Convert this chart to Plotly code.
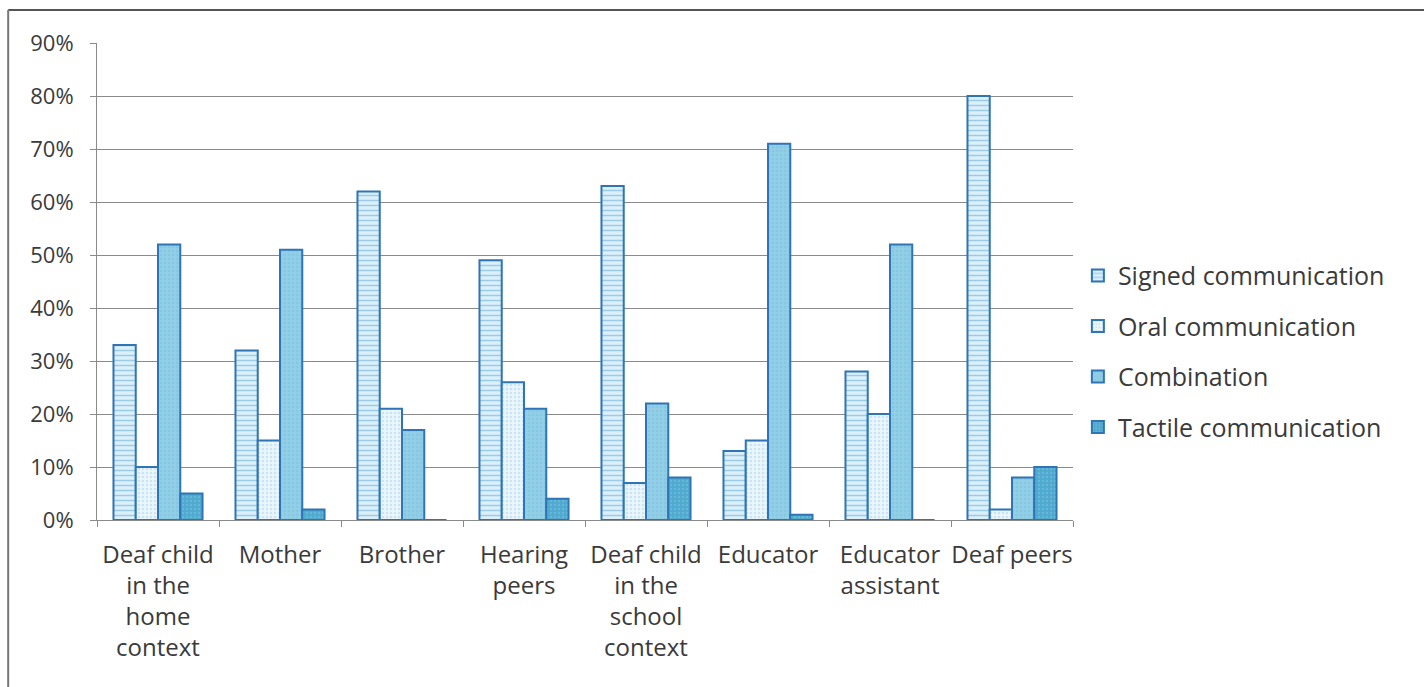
import plotly.graph_objects as go

categories = [
    "Deaf child<br>in the<br>home<br>context",
    "Mother",
    "Brother",
    "Hearing<br>peers",
    "Deaf child<br>in the<br>school<br>context",
    "Educator",
    "Educator<br>assistant",
    "Deaf peers",
]
series_names = ["Signed communication", "Oral communication", "Combination", "Tactile communication"]
signed = [33, 32, 62, 49, 63, 13, 28, 80]
oral = [10, 15, 21, 26, 7, 15, 20, 2]
combination = [52, 51, 17, 21, 22, 71, 52, 8]
tactile = [5, 2, 0, 4, 8, 1, 0, 10]
y_ticks = [0, 10, 20, 30, 40, 50, 60, 70, 80, 90]
y_tick_labels = [f"{v}%" for v in y_ticks]

styles = [
    dict(bg="#dcf0fa", fg="#5aa6d4", shape="-", size=5),
    dict(bg="#eaf6fc", fg="#a8d4ea", shape=".", size=4),
    dict(bg="#86c8e2", fg="#bfe3f2", shape="+", size=4),
    dict(bg="#4fa9cf", fg="#7cc3df", shape=".", size=4),
]

FONT = "Open Sans, sans-serif"
fig = go.Figure()
for name, vals, st in zip(series_names, [signed, oral, combination, tactile], styles):
    fig.add_trace(go.Bar(
        x=categories, y=vals, name=name, legendgroup=name,
        marker=dict(
            color=st["bg"],
            line=dict(color="#2f74b5", width=2),
            pattern=dict(shape=st["shape"], fgcolor=st["fg"], bgcolor=st["bg"],
                         size=st["size"], solidity=0.3, fillmode="overlay"),
        ),
    ))

fig.update_layout(
    width=1424, height=687,
    margin=dict(l=97, r=351, t=43, b=167),
    paper_bgcolor="white", plot_bgcolor="white",
    barmode="group", bargap=0.27, bargroupgap=0,
    font=dict(family=FONT, size=24, color="#3a3a3a"),
    legend=dict(x=1.005, y=0.354, xanchor="left", yanchor="middle",
                font=dict(size=25, color="#3a3a3a"), tracegroupgap=15,
                traceorder="grouped", itemwidth=30),
    showlegend=True,
)
fig.update_yaxes(
    range=[0, 90], tickvals=y_ticks, ticktext=y_tick_labels,
    showgrid=True, gridcolor="#8a8a8a", gridwidth=1,
    showline=True, linecolor="#8a8a8a", linewidth=1,
    ticks="outside", ticklen=6, tickcolor="#8a8a8a",
    ticklabelstandoff=12, zeroline=False, tickfont=dict(size=22),
)
fig.update_xaxes(
    showline=True, linecolor="#8a8a8a", linewidth=1,
    ticks="outside", ticklen=6, tickcolor="#8a8a8a", tickson="boundaries",
    tickangle=0, ticklabelstandoff=13,
)
# outer chart border (top and left edges visible)
fig.add_shape(type="line", xref="paper", yref="paper", x0=-0.091, x1=1.36, y0=1.069, y1=1.069,
              line=dict(color="#555555", width=2))
fig.add_shape(type="line", xref="paper", yref="paper", x0=-0.091, x1=-0.091, y0=1.069, y1=-0.36,
              line=dict(color="#777777", width=2))

fig.write_html("out.html")
